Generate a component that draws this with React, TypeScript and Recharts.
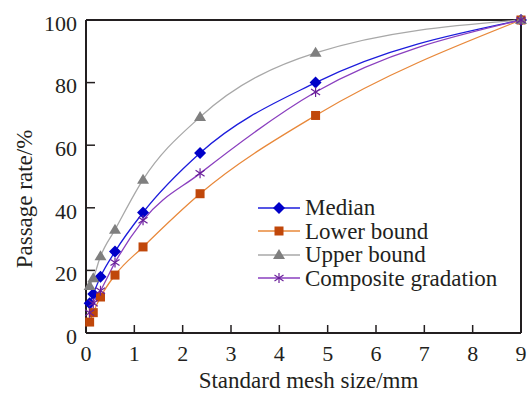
import React from 'react';
import { LineChart, Line, XAxis, YAxis, ReferenceLine } from 'recharts';

// Sieve sizes (mm) and passage rates (%)
const sieveSizes = [0.075, 0.15, 0.3, 0.6, 1.18, 2.36, 4.75, 9];
const medianPass = [9.5, 12.5, 18, 26, 38.5, 57.5, 80, 100];
const lowerPass = [3.5, 6.5, 11.5, 18.5, 27.5, 44.5, 69.5, 100];
const upperPass = [15, 17.5, 24.5, 33, 49, 69, 89.5, 100];
const compositePass = [6.5, 9.5, 13.5, 22.5, 36, 51, 77, 100];

const xTicks = [0, 1, 2, 3, 4, 5, 6, 7, 8, 9];
const yTicks = [0, 20, 40, 60, 80, 100];

const data = sieveSizes.map((size, i) => ({
  size,
  median: medianPass[i],
  lower: lowerPass[i],
  upper: upperPass[i],
  composite: compositePass[i],
}));

const FONT = '"Liberation Serif", "Times New Roman", serif';
const AXIS = '#231f20';

const SERIES = [
  { key: 'median', name: 'Median', line: '#1c1cdc', mark: '#0000c8', shape: 'diamond' },
  { key: 'lower', name: 'Lower bound', line: '#e8883a', mark: '#c0470a', shape: 'square' },
  { key: 'upper', name: 'Upper bound', line: '#a8a8a8', mark: '#7f7f7f', shape: 'triangle' },
  { key: 'composite', name: 'Composite gradation', line: '#8a3fbf', mark: '#6a1f9a', shape: 'star' },
];

const Marker = ({ shape, cx, cy, color }: { shape: string; cx: number; cy: number; color: string }) => {
  if (shape === 'diamond') {
    return <polygon points={`${cx},${cy - 6} ${cx + 6},${cy} ${cx},${cy + 6} ${cx - 6},${cy}`} fill={color} />;
  }
  if (shape === 'square') {
    return <rect x={cx - 4.5} y={cy - 4.5} width={9} height={9} fill={color} />;
  }
  if (shape === 'triangle') {
    return <polygon points={`${cx},${cy - 6} ${cx + 6},${cy + 4} ${cx - 6},${cy + 4}`} fill={color} />;
  }
  return (
    <g stroke={color} strokeWidth={1.2}>
      <line x1={cx} y1={cy - 5} x2={cx} y2={cy + 5} />
      <line x1={cx - 4.5} y1={cy - 3} x2={cx + 4.5} y2={cy + 3} />
      <line x1={cx - 4.5} y1={cy + 3} x2={cx + 4.5} y2={cy - 3} />
    </g>
  );
};

// y title sits a bit below the plot's middle in the original
const YTitle = () => (
  <text
    x={24}
    y={199}
    transform="rotate(-90, 24, 199)"
    textAnchor="middle"
    dominantBaseline="central"
    fill={AXIS}
    fontFamily={FONT}
    fontSize={23}
  >
    Passage rate/%
  </text>
);

// legend drawn on top of the chart
const ChartLegend = () => (
  <div style={{ position: 'absolute', left: 257, top: 196, fontFamily: FONT, fontSize: 23, color: '#231f20', lineHeight: 1 }}>
    {SERIES.map((s) => (
      <div key={s.key} style={{ display: 'flex', alignItems: 'center', height: 23.5 }}>
        <svg width={46} height={14} style={{ marginRight: 2 }}>
          <line x1={1} y1={7} x2={43} y2={7} stroke={s.line} strokeWidth={1.5} />
          <Marker shape={s.shape} cx={22} cy={7} color={s.mark} />
        </svg>
        <span>{s.name}</span>
      </div>
    ))}
  </div>
);

export default function App() {
  return (
    <div style={{ position: 'absolute', left: 0, top: 0, width: 532, height: 394, background: '#fff' }}>
      <LineChart width={532} height={394} data={data} margin={{ top: 20, right: 11, bottom: 0, left: 0 }}>
        <XAxis
          dataKey="size"
          type="number"
          domain={[0, 9]}
          ticks={xTicks}
          interval={0}
          height={61}
          tickSize={-8}
          tickMargin={20}
          axisLine={{ stroke: AXIS, strokeWidth: 2 }}
          tickLine={{ stroke: AXIS, strokeWidth: 1.5 }}
          tick={{ fill: AXIS, fontFamily: FONT, fontSize: 22 }}
          label={{ value: 'Standard mesh size/mm', position: 'insideBottom', offset: 6, dx: 5, fill: AXIS, fontFamily: FONT, fontSize: 23 }}
        />
        <YAxis
          type="number"
          domain={[0, 100]}
          ticks={yTicks}
          interval={0}
          width={86}
          tickSize={-9}
          tickMargin={18}
          axisLine={{ stroke: AXIS, strokeWidth: 2 }}
          tickLine={{ stroke: AXIS, strokeWidth: 1.5 }}
          tick={{ fill: AXIS, fontFamily: FONT, fontSize: 22, dy: 3 }}
          label={{ content: () => <YTitle /> }}
        />
        <ReferenceLine y={100} stroke={AXIS} strokeWidth={2} />
        <ReferenceLine x={9} stroke={AXIS} strokeWidth={2} />
        {SERIES.map((s) => (
          <Line
            key={s.key}
            dataKey={s.key}
            name={s.name}
            type="monotone"
            stroke={s.line}
            strokeWidth={1.3}
            isAnimationActive={false}
            dot={(p: any) => <Marker key={`${s.key}-${p.index}`} shape={s.shape} cx={p.cx} cy={p.cy} color={s.mark} />}
            activeDot={false}
          />
        ))}
      </LineChart>
      <ChartLegend />
    </div>
  );
}
